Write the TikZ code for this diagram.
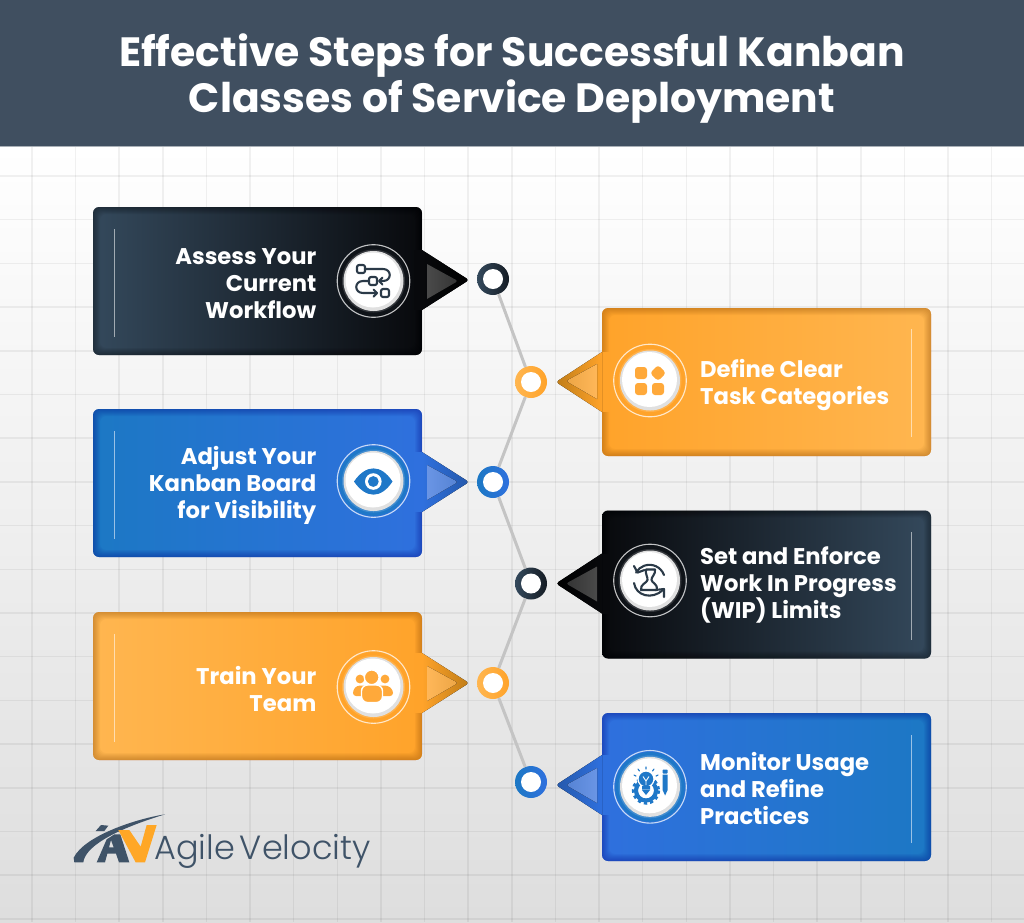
\documentclass[tikz,border=0pt]{standalone}
\usepackage{fontspec}
\setmainfont{Poppins}
\newfontfamily\logofont{Poppins Light}
\usetikzlibrary{calc,arrows.meta}
\definecolor{hdr}{HTML}{404F60}
\definecolor{dkA}{HTML}{34495C}\definecolor{dkB}{HTML}{08090C}
\definecolor{orA}{HTML}{FFB650}\definecolor{orB}{HTML}{FFA32A}\definecolor{orT}{HTML}{C07D18}\definecolor{orI}{HTML}{FFB759}
\definecolor{blA}{HTML}{1C78C4}\definecolor{blB}{HTML}{2F70DE}\definecolor{blT}{HTML}{2559AB}\definecolor{blI}{HTML}{6A95E5}
\definecolor{dkI}{HTML}{4A4A4A}
\definecolor{icD}{HTML}{2B3A48}\definecolor{icO}{HTML}{FFA93A}\definecolor{icB}{HTML}{1F78C8}
\definecolor{lnk}{HTML}{C4C4C4}\definecolor{logoD}{HTML}{3F5368}\definecolor{logoO}{HTML}{FFA726}
\tikzset{
  cardbox/.style={rectangle,rounded corners=6pt,minimum width=329pt,minimum height=148pt,inner sep=0pt,outer sep=0pt},
  dotring/.style={circle,minimum size=32pt,inner sep=0pt,outer sep=0pt},
  stepLabel/.style={text=white,font=\bfseries\fontsize{22.7}{27}\selectfont,inner sep=0pt},
  linkline/.style={draw=lnk,line width=3pt},
  gridline/.style={black,opacity=.055,line width=1.5pt},
  iconline/.style={line width=2.1pt,line cap=round,line join=round},
}
% inner edge shade of a card: centre x, centre y, colour
\newcommand\edgeshade[3]{\foreach \k in {1,...,7}{\fill[#3,opacity=.05,even odd rule,rounded corners=6pt]
  (#1-164.5,#2-74) rectangle (#1+164.5,#2+74)
  (#1-164.5+\k,#2-74+\k) rectangle (#1+164.5-\k,#2+74-\k);}}
% pointers: tip height, card-side colour, tip colour
\newcommand\ptrL[3]{\fill[#2] (414,#1-30) rectangle (422.3,#1+30);
  \fill[left color=#2,right color=#3] (422,#1-30) [rounded corners=3pt] -- (469,#1) [sharp corners] -- (422,#1+30) -- cycle;}
\newcommand\ptrLin[3]{\fill[left color=#2,right color=#2!70!#3] (427,#1-17) [rounded corners=2.5pt] -- (458,#1) [sharp corners] -- (427,#1+18) -- cycle;}
\newcommand\ptrR[3]{\fill[#2] (601.7,#1-30) rectangle (610,#1+30);
  \fill[right color=#2,left color=#3] (602,#1-30) [rounded corners=3pt] -- (556,#1) [sharp corners] -- (602,#1+30) -- cycle;}
\newcommand\ptrRin[3]{\fill[right color=#2,left color=#2!70!#3] (597,#1-17) [rounded corners=2.5pt] -- (566,#1) [sharp corners] -- (597,#1+18) -- cycle;}
% icon disc: x,y,ring colour
\newcommand\disc[3]{
  \draw[white,opacity=.75,line width=1.1pt] (#1,#2) circle (36.3pt);
  \fill[#3] (#1,#2) circle (34.8pt);
  \fill[#3!85!white] (#1,#2) circle (31.5pt);
  \fill[white!88!black] (#1,#2) circle (30pt);
  \fill[white] (#1-.5,#2-1) circle (27.5pt);}
\begin{document}
\begin{tikzpicture}[x=1pt,y=1pt,yscale=-1]
\useasboundingbox (0,0) rectangle (1024,922);
% background
\fill[top color=white,middle color=white!94!black,bottom color=white!87!black] (0,146) rectangle (1024,922);
\foreach \i in {0,...,22}{\draw[gridline] (32+43.62*\i,146) -- (32+43.62*\i,922);}
\foreach \i in {0,...,17}{\draw[gridline] (0,176+43.7*\i) -- (1024,176+43.7*\i);}
% header
\fill[hdr] (0,0) rectangle (1024,146);
\draw[white!55!hdr,line width=.8pt] (0,146) -- (1024,146);
\node (title) [text=white,font=\bfseries\fontsize{40.9}{46}\selectfont,align=center,inner sep=0pt] at (512,78.5)
  {Effective Steps for Successful Kanban\\Classes of Service Deployment};

% dots
\node (d1) [dotring,left color=dkA,right color=dkB!70!dkA] at (493,279) {};
\node (d2) [dotring,left color=orA,right color=orB] at (531,382) {};
\node (d3) [dotring,left color=blA,right color=blB] at (493,482) {};
\node (d4) [dotring,left color=dkA,right color=dkB!70!dkA] at (531,583.5) {};
\node (d5) [dotring,left color=orA,right color=orB] at (493,683) {};
\node (d6) [dotring,left color=blA,right color=blB] at (531,782) {};
\foreach \n in {d1,d2,d3,d4,d5,d6}{\fill[white] (\n) circle (10pt);}
\draw[linkline] (d1) -- (d2);
\draw[linkline] (d2) -- (d3);
\draw[linkline] (d3) -- (d4);
\draw[linkline] (d4) -- (d5);
\draw[linkline] (d5) -- (d6);

% cards
\node (c1) [cardbox,left color=dkA,right color=dkB] at (257.5,281) {};
\node (c2) [cardbox,left color=orB,right color=orA] at (766.5,382) {};
\node (c3) [cardbox,left color=blA,right color=blB] at (257.5,483) {};
\node (c4) [cardbox,left color=dkB,right color=dkA] at (766.5,584.5) {};
\node (c5) [cardbox,left color=orA,right color=orB] at (257.5,686) {};
\node (c6) [cardbox,left color=blB,right color=blA] at (766.5,787) {};
\edgeshade{257.5}{281}{black}
\edgeshade{766.5}{382}{orange!50!black}
\edgeshade{257.5}{483}{blue!50!black}
\edgeshade{766.5}{584.5}{black}
\edgeshade{257.5}{686}{orange!50!black}
\edgeshade{766.5}{787}{blue!50!black}

% pointers
\ptrL{280}{dkB}{black}
\ptrR{382}{orB}{orT}
\ptrL{482}{blB}{blT}
\ptrR{583.5}{dkB}{black}
\ptrL{683}{orB}{orT}
\ptrR{785}{blB}{blT}

% inner triangles
\ptrLin{281}{dkI}{black}
\ptrRin{381}{orI}{orT}
\ptrLin{482}{blI}{blT}
\ptrRin{583.5}{dkI}{black}
\ptrLin{683}{orI}{orT}
\ptrRin{785}{blI}{blT}

% thin rules
\foreach \y in {229,431,634}{\draw[white,opacity=.55,line width=.9pt] (114.5,\y) -- (114.5,\y+108);}
\foreach \y in {329,532,735}{\draw[white,opacity=.55,line width=.9pt] (911.5,\y) -- (911.5,\y+108);}

% discs
\disc{373.5}{281}{dkB!85!dkA}
\disc{650}{380.5}{orB}
\disc{373.5}{481}{icB}
\disc{650}{580.5}{dkB!85!dkA}
\disc{373.5}{687}{orB}
\disc{650}{786.8}{icB}

% labels
\node (t1) [stepLabel,align=right,anchor=east] at (316.5,284) {Assess Your\\Current\\Workflow};
\node (t2) [stepLabel,align=left,anchor=west] at (700,385) {Define Clear\\Task Categories};
\node (t3) [stepLabel,align=right,anchor=east] at (316.5,485) {Adjust Your\\Kanban Board\\for Visibility};
\node (t4) [stepLabel,align=left,anchor=west] at (700,584.5) {Set and Enforce\\Work In Progress\\(WIP) Limits};
\node (t5) [stepLabel,align=right,anchor=east] at (316.5,688.5) {Train Your\\Team};
\node (t6) [stepLabel,align=left,anchor=west] at (700,788) {Monitor Usage\\and Refine\\Practices};

% icon 1: workflow
\begin{scope}[icD,iconline]
  \draw[rounded corners=2pt] (357,265) rectangle (365,273);
  \draw[rounded corners=2pt] (369,277) rectangle (377,285);
  \draw[rounded corners=2pt] (381,289) rectangle (389,297);
  \draw (365,269) -- (383,269) .. controls (392,269) and (392,281) .. (383,281) -- (379.5,281);
  \draw (382.5,277.5) -- (379,281) -- (382.5,284.5);
  \draw (369,281) -- (363,281) .. controls (354,281) and (354,293) .. (363,293) -- (377,293);
  \draw (373.5,289.5) -- (377,293) -- (373.5,296.5);
\end{scope}
% icon 2: four tiles
\begin{scope}[icO]
  \fill[rounded corners=3pt] (635,367) rectangle (647,379);
  \fill[rounded corners=3pt] (635,383) rectangle (647,395);
  \fill[rounded corners=3pt] (652,383) rectangle (664,395);
  \fill[rounded corners=3pt] (658,365) -- (666,373) -- (658,381) -- (650,373) -- cycle;
\end{scope}
% icon 3: eye
\fill[icB] (354,481.5) .. controls (366,464) and (381,464) .. (392.5,481.5) .. controls (381,499) and (366,499) .. (354,481.5) -- cycle;
\fill[white] (373.3,481.5) circle (8.3pt);
\fill[icB] (373.3,481.5) circle (5.4pt);
% icon 4: hourglass in turning arrows
\begin{scope}[icD,iconline]
  \draw (664,575) arc[start angle=-20,end angle=-150,radius=15.5pt];
  \draw (634,566) -- (637.5,572.6) -- (644.5,570);
  \draw (634,583) .. controls (636,596) and (652,600) .. (663,590);
  \draw (655,590) -- (664,589) -- (664,597);
  \draw (646,569.5) -- (655,569.5) .. controls (656,574) and (651,577) .. (651.5,580) .. controls (652,583) and (658,584) .. (657,590) -- (641,590) .. controls (640,584) and (647,583) .. (647.5,580) .. controls (648,577) and (645,574) .. (646,569.5) -- cycle;
\end{scope}
% icon 5: people
\fill[icO] (360,679) circle (4.4pt);
\fill[icO] (385,679) circle (4.4pt);
\fill[icO,rounded corners=3pt] (353,696) -- (353,690) -- (357,685.5) -- (388,685.5) -- (393,690) -- (393,696) -- cycle;
\fill[icO,draw=white,line width=1.4pt] (371.7,677.3) circle (7.4pt);
\fill[icO,draw=white,line width=1.4pt,rounded corners=6pt] (361.5,702.5) -- (361.5,685) -- (382.5,685) -- (382.5,702.5) -- cycle;
% icon 6: gear, bulb, pencil
\begin{scope}
  \draw[icB,line width=3.2pt,dash pattern=on 3.2pt off 3pt] (646,790.5) circle (12.6pt);
  \draw[icB,line width=4.2pt] (646,790.5) circle (10pt);
  \fill[white] (646,790.5) circle (7.5pt);
  \fill[icB,draw=white,line width=1.2pt] (646,779) circle (8pt);
  \draw[white,line width=.9pt,line join=round] (646,785) -- (646,781) -- (643,776.5) (646,781) -- (649,776.5);
  \fill[icB] (642,786) rectangle (650,789.5) (642,790) -- (650,790) -- (646,795) -- cycle;
  \draw[icB,line width=1.1pt,line cap=round] (646,767) -- (646,769) (638,769) -- (639.5,771) (654,769) -- (652.5,771) (634,775) -- (636,776) (658,775) -- (656,776);
  \fill[icB,rounded corners=.8pt] (662.6,769.5) rectangle (667.6,773.5);
  \fill[icB] (662.6,774.7) -- (667.6,774.7) -- (667.6,790) -- (665.1,795.5) -- (662.6,790) -- cycle;
\end{scope}

% logo
\begin{scope}[shift={(65,805)},scale=1/3]
  \fill[logoD] (92,78) -- (108,60) -- (130,62) -- (118,78) -- cycle;
  \fill[logoD] (300,28) .. controls (220,40) and (60,90) .. (26,158) -- (28,172) -- (55,172) .. controls (60,130) and (130,80) .. (300,28) -- cycle;
  \fill[logoD] (95,172) -- (125,103) -- (148,88) -- (166,88) -- (193,172) -- (162,172) -- (153,146) -- (118,146) -- (127,127) -- (146,127) -- (138,105) -- (120,172) -- cycle;
  \fill[logoO] (160,75) -- (193,75) -- (227,125) -- (245,60) -- (275,60) -- (240,172) -- (212,172) -- cycle;
\end{scope}
\node (logo) [text=logoD,font=\logofont\fontsize{33.5}{35}\selectfont,anchor=base west,inner sep=0pt] at (154,859.5) {Agile\hspace{-4pt} Velocity};
\end{tikzpicture}
\end{document}
